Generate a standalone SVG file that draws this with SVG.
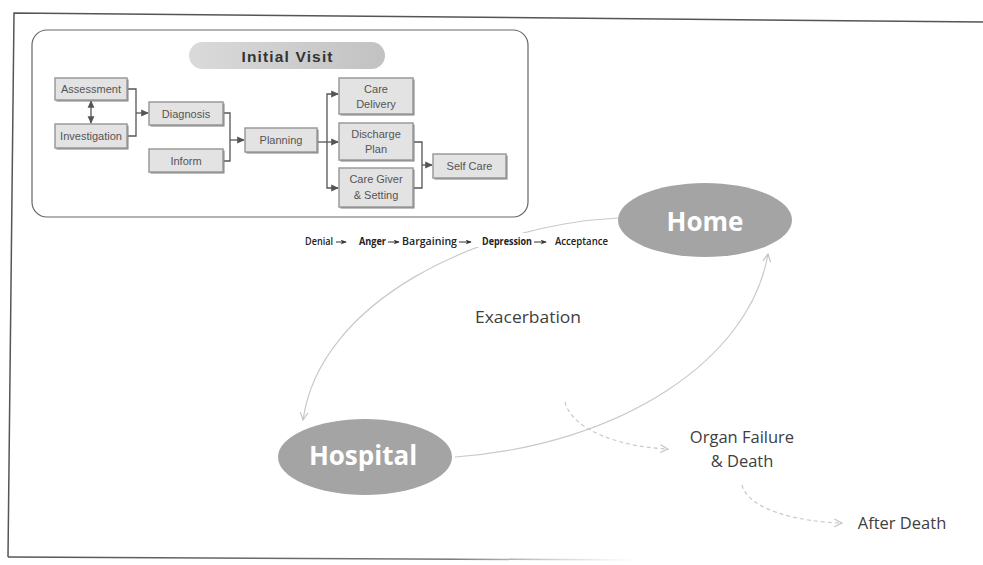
<svg xmlns="http://www.w3.org/2000/svg" width="983" height="565" viewBox="0 0 983 565">
<style>
.box{fill:#e3e3e3;stroke:#9a9a9a;stroke-width:1.5}
.shd{fill:#808080}
.bt{font-family:"Liberation Sans",Arial,sans-serif;font-size:11px;fill:#555;text-anchor:middle}
.con{fill:none;stroke:#555;stroke-width:1.3}
.arc{fill:none;stroke:#c9c9c9;stroke-width:1.2}
.dash{fill:none;stroke:#c9c9c9;stroke-width:1.2;stroke-dasharray:4 3}
.st{font-family:"Open Sans","Liberation Sans",sans-serif;font-size:10px;fill:#222}
.sa{fill:none;stroke:#333;stroke-width:1}
.big{font-family:"Open Sans","Liberation Sans",sans-serif;font-size:16.5px;fill:#404040;text-anchor:middle}
.ell{fill:#a4a4a4}
.et{font-family:"Open Sans","Liberation Sans",sans-serif;font-weight:bold;font-size:26px;fill:#fff;text-anchor:middle}
</style>
<defs>
<marker id="ah" viewBox="0 0 8 8" refX="7" refY="4" markerWidth="6" markerHeight="6" orient="auto-start-reverse">
<path d="M0,0.5 L8,4 L0,7.5 Z" fill="#555"/>
</marker>
<marker id="sh" viewBox="0 0 8 8" refX="7" refY="4" markerWidth="6" markerHeight="6" orient="auto">
<path d="M0,1 L8,4 L0,7 L2,4 Z" fill="#333"/>
</marker>
<marker id="lt" viewBox="0 0 10 10" refX="9" refY="5" markerWidth="8" markerHeight="8" orient="auto">
<path d="M1,1 L9,5 L1,9" fill="none" stroke="#c4c4c4" stroke-width="1.2"/>
</marker>
<linearGradient id="pill" x1="0" y1="0" x2="1" y2="0">
<stop offset="0" stop-color="#dadada"/>
<stop offset="1" stop-color="#c2c2c2"/>
</linearGradient>
<linearGradient id="fade" x1="0" y1="0" x2="1" y2="0">
<stop offset="0" stop-color="#555"/>
<stop offset="0.7" stop-color="#777"/>
<stop offset="1" stop-color="#bbb" stop-opacity="0"/>
</linearGradient>
</defs>
<rect width="983" height="565" fill="#fff"/>
<g id="frame">
<path d="M984 22 L14 13 L8 557" fill="none" stroke="#555" stroke-width="1.5"/>
<path d="M8 557 L640 560" fill="none" stroke="url(#fade)" stroke-width="1.5"/>
</g>
<g id="initial-visit">
<rect x="32" y="30" width="496" height="187" rx="15" fill="#fff" stroke="#666" stroke-width="1.2"/>
<rect x="189" y="42" width="196" height="27" rx="13.5" fill="url(#pill)"/>
<text x="287" y="62" font-family="Liberation Sans,Arial,sans-serif" font-weight="bold" font-size="15.5" fill="#333" text-anchor="middle" textLength="91" lengthAdjust="spacing">Initial Visit</text>
</g>
<g id="connectors-inner">
<path class="con" d="M127 89 H136 V136 H127"/>
<path class="con" d="M136 113 H148" marker-end="url(#ah)"/>
<path class="con" d="M91 101 V123" marker-start="url(#ah)" marker-end="url(#ah)"/>
<path class="con" d="M223 113 H230 V161 H223"/>
<path class="con" d="M230 140 H244" marker-end="url(#ah)"/>
<path class="con" d="M327 142 V94 H338" marker-end="url(#ah)"/>
<path class="con" d="M327 142 V188 H338" marker-end="url(#ah)"/>
<path class="con" d="M317 142 H338" marker-end="url(#ah)"/>
<path class="con" d="M413 142 H422 V188 H413"/>
<path class="con" d="M422 165 H432" marker-end="url(#ah)"/>
</g>
<g id="assessment"><rect class="shd" x="56.5" y="79.5" width="72" height="22"/><rect class="box" x="55" y="78" width="72" height="22"/><text class="bt" x="91" y="93">Assessment</text></g>
<g id="investigation"><rect class="shd" x="56.5" y="125.5" width="72" height="24"/><rect class="box" x="55" y="124" width="72" height="24"/><text class="bt" x="91" y="140">Investigation</text></g>
<g id="diagnosis"><rect class="shd" x="150.5" y="103.5" width="74" height="23"/><rect class="box" x="149" y="102" width="74" height="23"/><text class="bt" x="186" y="117.5">Diagnosis</text></g>
<g id="inform"><rect class="shd" x="150.5" y="150.5" width="74" height="23"/><rect class="box" x="149" y="149" width="74" height="23"/><text class="bt" x="186" y="164.5">Inform</text></g>
<g id="planning"><rect class="shd" x="246.5" y="129.5" width="72" height="24"/><rect class="box" x="245" y="128" width="72" height="24"/><text class="bt" x="281" y="144">Planning</text></g>
<g id="care-delivery"><rect class="shd" x="340.5" y="79.5" width="74" height="36"/><rect class="box" x="339" y="78" width="74" height="36"/><text class="bt" x="376" y="93">Care</text><text class="bt" x="376" y="108">Delivery</text></g>
<g id="discharge-plan"><rect class="shd" x="340.5" y="124.5" width="74" height="37"/><rect class="box" x="339" y="123" width="74" height="37"/><text class="bt" x="376" y="138">Discharge</text><text class="bt" x="376" y="153">Plan</text></g>
<g id="care-giver"><rect class="shd" x="340.5" y="169.5" width="74" height="39"/><rect class="box" x="339" y="168" width="74" height="39"/><text class="bt" x="376" y="183">Care Giver</text><text class="bt" x="376" y="199">&amp; Setting</text></g>
<g id="self-care"><rect class="shd" x="434.5" y="155.5" width="73" height="24"/><rect class="box" x="433" y="154" width="73" height="24"/><text class="bt" x="469.5" y="170">Self Care</text></g>
<g id="connectors-main">
<path class="arc" d="M618 218 C 480 225, 320 300, 303 420" marker-end="url(#lt)"/>
<path class="arc" d="M455 457 C 620 445, 750 360, 768 254" marker-end="url(#lt)"/>
<path class="dash" d="M565 402 C 572 430, 620 447, 668 449" marker-end="url(#lt)"/>
<path class="dash" d="M742 485 C 748 510, 800 522, 842 523" marker-end="url(#lt)"/>
</g>
<g id="stages">
<rect x="300" y="233" width="312" height="14" fill="#fff"/>
<text class="st" x="305" y="245" font-weight="600" textLength="28" lengthAdjust="spacingAndGlyphs">Denial</text>
<path class="sa" d="M336 242 H346" marker-end="url(#sh)"/>
<text class="st" x="359" y="245" font-weight="bold" textLength="27" lengthAdjust="spacingAndGlyphs">Anger</text>
<path class="sa" d="M388 242 H399" marker-end="url(#sh)"/>
<text class="st" x="402" y="245" font-weight="600" textLength="55" lengthAdjust="spacingAndGlyphs">Bargaining</text>
<path class="sa" d="M459 242 H471" marker-end="url(#sh)"/>
<text class="st" x="482" y="245" font-weight="bold" textLength="50" lengthAdjust="spacingAndGlyphs">Depression</text>
<path class="sa" d="M534 242 H546" marker-end="url(#sh)"/>
<text class="st" x="555" y="245" font-weight="600" textLength="53" lengthAdjust="spacingAndGlyphs">Acceptance</text>
</g>
<g id="home"><ellipse class="ell" cx="705" cy="220" rx="87" ry="37"/><text class="et" x="705" y="231">Home</text></g>
<g id="hospital"><ellipse class="ell" cx="365" cy="457" rx="87" ry="38"/><text class="et" x="363" y="465">Hospital</text></g>
<g id="exacerbation"><text class="big" x="528" y="323" textLength="106" lengthAdjust="spacingAndGlyphs">Exacerbation</text></g>
<g id="organ-failure"><text class="big" x="742" y="443">Organ Failure</text><text class="big" x="742" y="467">&amp; Death</text></g>
<g id="after-death"><text class="big" x="902" y="529">After Death</text></g>
</svg>
